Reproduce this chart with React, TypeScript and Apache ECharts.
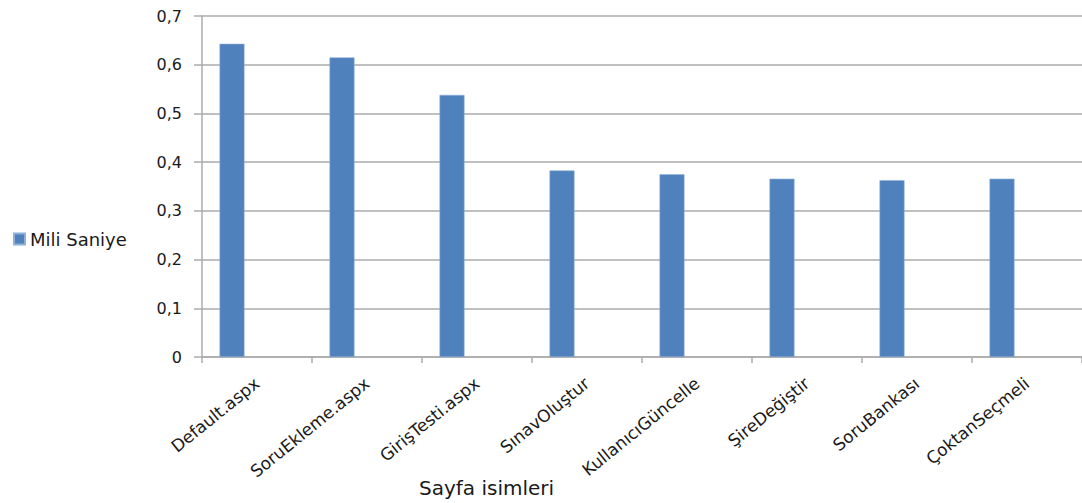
import React, { useEffect, useRef } from "react";
import * as echarts from "echarts";

// Page load times per page (milliseconds, shown as "Mili Saniye")
const categories = [
  "Default.aspx",
  "SoruEkleme.aspx",
  "GirişTesti.aspx",
  "SınavOluştur",
  "KullanıcıGüncelle",
  "ŞireDeğiştir",
  "SoruBankası",
  "ÇoktanSeçmeli",
];
const miliSaniye = [0.643, 0.615, 0.538, 0.383, 0.375, 0.366, 0.363, 0.366];
const seriesName = "Mili Saniye";
const xAxisTitle = "Sayfa isimleri";

const FONT = "DejaVu Sans";
const TEXT = "#1a1a1a";
const BAR = "#4F81BD";
const GRID = "#ababab";

export default function App() {
  const ref = useRef<HTMLDivElement>(null);

  useEffect(() => {
    document.body.style.margin = "0";
    const chart = echarts.init(ref.current!, null, { renderer: "svg" });
    const empty = categories.map(() => null);
    chart.setOption({
      animation: false,
      backgroundColor: "#ffffff",
      textStyle: { fontFamily: FONT, color: TEXT },
      grid: { left: 202, top: 16, width: 888, height: 341, containLabel: false },
      legend: {
        data: [seriesName],
        left: 8,
        top: 225,
        orient: "vertical",
        itemWidth: 11,
        itemHeight: 11,
        itemGap: 6,
        textStyle: { fontFamily: FONT, fontSize: 18, color: TEXT },
        icon: "rect",
      },
      xAxis: {
        type: "category",
        data: categories,
        axisLine: { lineStyle: { color: GRID, width: 1.5 } },
        axisTick: { show: true, length: 6, alignWithLabel: false, lineStyle: { color: GRID, width: 1.5 } },
        axisLabel: {
          interval: 0,
          rotate: 39,
          margin: 24,
          fontFamily: FONT,
          fontSize: 17,
          color: TEXT,
        },
        splitLine: { show: false },
      },
      yAxis: {
        type: "value",
        min: 0,
        max: 0.7,
        interval: 0.1,
        axisLine: { show: true, lineStyle: { color: GRID, width: 1.5 } },
        axisTick: { show: true, length: 8, lineStyle: { color: GRID, width: 1.5 } },
        axisLabel: {
          margin: 20,
          fontFamily: FONT,
          fontSize: 16,
          color: TEXT,
          formatter: (v: number) => (v === 0 ? "0" : v.toFixed(1).replace(".", ",")),
        },
        splitLine: { show: true, lineStyle: { color: GRID, width: 1.5 } },
      },
      series: [
        {
          name: seriesName,
          type: "bar",
          data: miliSaniye,
          barWidth: 25,
          barGap: "0%",
          itemStyle: { color: BAR, borderColor: "#8fb0d8", borderWidth: 0.6 },
        },
        { name: "_b", type: "bar", data: empty, barWidth: 25, barGap: "0%" },
        { name: "_c", type: "bar", data: empty, barWidth: 25, barGap: "0%" },
      ],
      graphic: [
        {
          type: "text",
          left: 419,
          top: 478,
          style: { text: xAxisTitle, font: `20px "${FONT}"`, fill: TEXT },
        },
      ],
    });
    return () => chart.dispose();
  }, []);

  return <div ref={ref} style={{ width: 1082, height: 503 }} />;
}
